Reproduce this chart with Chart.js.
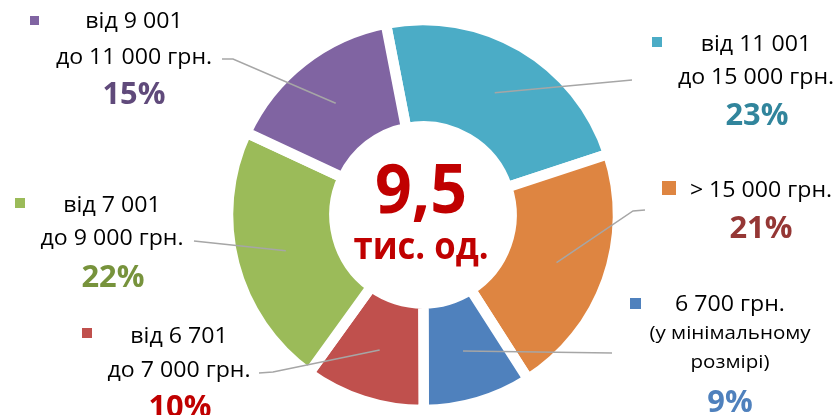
<!DOCTYPE html>
<html><head><meta charset="utf-8">
<script src="https://cdn.jsdelivr.net/npm/chart.js@4"></script>
<style>html,body{margin:0;padding:0;background:#fff;overflow:hidden}</style>
</head><body>
<canvas id="c" width="838" height="415"></canvas>
<script>
// ---- data ----
const categories = [
  ["від 11 001", "до 15 000 грн."],
  ["> 15 000 грн."],
  ["6 700 грн.", "(у мінімальному", "розмірі)"],
  ["від 6 701", "до 7 000 грн."],
  ["від 7 001", "до 9 000 грн."],
  ["від 9 001", "до 11 000 грн."]
];
const shares = [23, 21, 9, 10, 22, 15];
const shareLabels = ["23%", "21%", "9%", "10%", "22%", "15%"];
const centerValue = "9,5";
const centerUnit = "тис. од.";

// ---- style ----
const sliceColors = ["#4BACC6", "#DE8541", "#4F81BD", "#C0504D", "#9BBB59", "#8064A2"];
const pctColors = ["#31859C", "#953735", "#4F81BD", "#C00000", "#77933C", "#604A7B"];
const FONT = '"Open Sans", "Noto Sans", sans-serif';
// label layout: centre x, baselines of lines, baseline of percent, marker box, leader outer points
const layout = [
  {cx:756, base:[51,84], pb:125, pcx:757, sq:[652,37,10], lead:[[632,80]], small:[]},
  {cx:761, base:[197], pb:238, pcx:761, sq:[662,181,14], lead:[[645,210],[633,211]], small:[]},
  {cx:730, base:[311,339,368], pb:412, pcx:730, sq:[630,298,11], lead:[[612,353]], small:[1,2]},
  {cx:179, base:[343,377], pb:417, pcx:180, sq:[82,328,10], lead:[[259,373],[273,372]], small:[]},
  {cx:112, base:[212,245], pb:287, pcx:113, sq:[15,198,10], lead:[[194,241]], small:[]},
  {cx:134, base:[28,64], pb:104, pcx:134, sq:[30,16,9], lead:[[222,59],[233,59]], small:[]}
];

function drawScaled(ctx, text, cx, y, font, color, targetRefW, refText) {
  ctx.save();
  ctx.font = font;
  let sx = 1;
  if (targetRefW) sx = targetRefW / ctx.measureText(refText).width;
  ctx.fillStyle = color;
  ctx.textAlign = 'center';
  ctx.textBaseline = 'alphabetic';
  ctx.translate(cx, y);
  ctx.scale(sx, 1);
  ctx.fillText(text, 0, 0);
  ctx.restore();
}

const labelsPlugin = {
  id: 'labelsPlugin',
  afterDatasetsDraw(chart) {
    const ctx = chart.ctx;
    const meta = chart.getDatasetMeta(0);
    // leader lines
    meta.data.forEach((arc, i) => {
      const p = arc.getProps(['x','y','startAngle','endAngle','innerRadius','outerRadius'], true);
      const mid = (p.startAngle + p.endAngle) / 2;
      const r = (p.innerRadius + p.outerRadius) / 2;
      const ax = p.x + Math.cos(mid) * r, ay = p.y + Math.sin(mid) * r;
      const pts = layout[i].lead;
      ctx.save();
      ctx.strokeStyle = '#A6A6A6';
      ctx.lineWidth = 1.5;
      ctx.beginPath();
      ctx.moveTo(pts[0][0], pts[0][1]);
      for (let k = 1; k < pts.length; k++) ctx.lineTo(pts[k][0], pts[k][1]);
      ctx.lineTo(ax, ay);
      ctx.stroke();
      ctx.restore();
    });
    // labels
    categories.forEach((lines, i) => {
      const L = layout[i];
      ctx.fillStyle = sliceColors[i];
      ctx.fillRect(L.sq[0], L.sq[1], L.sq[2], L.sq[2]);
      lines.forEach((t, k) => {
        const small = L.small.includes(k);
        const fs = small ? 18.5 : 21;
        drawScaled(ctx, t, L.cx, L.base[k], `${fs}px ${FONT}`, '#000', small ? 127 : 143, 'до 9 000 грн.');
      });
      drawScaled(ctx, shareLabels[i], L.pcx, L.pb, `bold 31px ${FONT}`, pctColors[i], 63, '22%');
    });
    // centre
    drawScaled(ctx, centerValue, 421, 213, `bold 68px ${FONT}`, '#C00000', 92, centerValue);
    drawScaled(ctx, centerUnit, 421, 259, `bold 37px ${FONT}`, '#C00000', 135, centerUnit);
  }
};

new Chart(document.getElementById('c'), {
  type: 'doughnut',
  data: {
    labels: categories.map(l => l.join(' ')),
    datasets: [{
      data: shares,
      backgroundColor: sliceColors,
      borderColor: '#FFFFFF',
      borderWidth: 10.5,
      borderJoinStyle: 'miter'
    }]
  },
  options: {
    responsive: false,
    animation: false,
    rotation: -11,
    radius: 195,
    cutout: '45.4%',
    layout: {padding: {left: 8, right: 0, top: 15, bottom: 0}},
    plugins: {legend: {display: false}, tooltip: {enabled: false}}
  },
  plugins: [labelsPlugin]
});
</script>
</body></html>
